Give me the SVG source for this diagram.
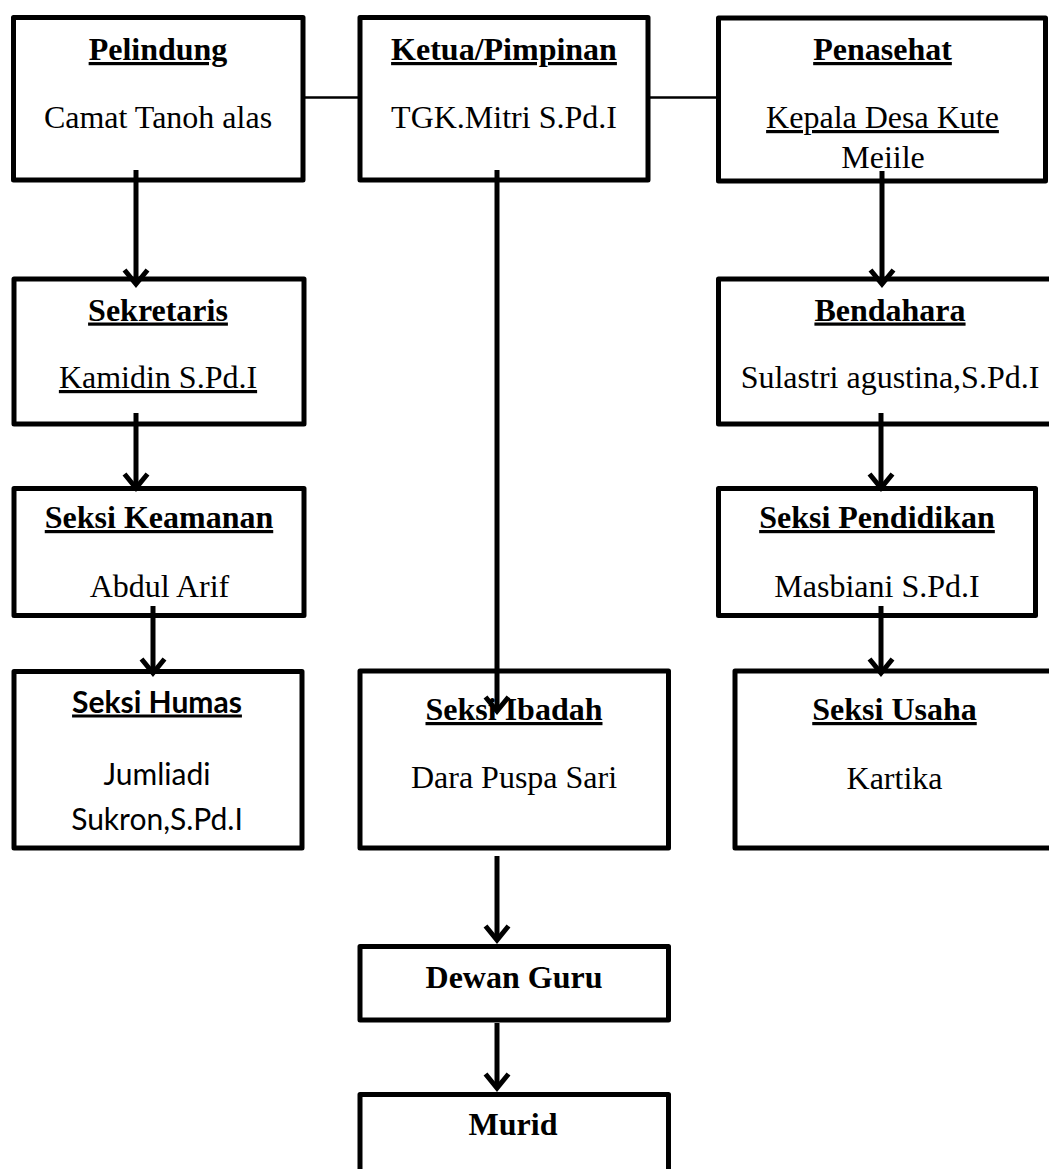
<svg xmlns="http://www.w3.org/2000/svg" width="1049" height="1169" viewBox="0 0 1049 1169">
<style>
.box{fill:#fff;stroke:#000;stroke-width:5;stroke-linejoin:round}
.t{font-family:"Liberation Serif","Times New Roman",serif;font-size:32px;fill:#000;text-anchor:middle}
.b{font-weight:bold}
.u{text-decoration:underline;text-decoration-thickness:2px;text-underline-offset:5px}
.b.u{text-decoration-thickness:3px}
.c{font-family:Lato,"Open Sans",sans-serif;font-size:30px;fill:#000;text-anchor:middle}
.thin{stroke:#000;stroke-width:2.5;fill:none}
.arr{stroke:#000;stroke-width:5;fill:none;marker-end:url(#ah)}
</style>
<defs>
<marker id="ah" markerUnits="userSpaceOnUse" markerWidth="40" markerHeight="40" viewBox="-20 -20 40 40" refX="0" refY="0" orient="auto">
<path d="M-14,-11.5 L0,0 L-14,11.5" fill="none" stroke="#000" stroke-width="5" stroke-linejoin="miter"/>
</marker>
</defs>
<rect width="1049" height="1169" fill="#fff"/>
<g id="pelindung"><rect class="box" x="13.5" y="17.5" width="289.5" height="162.5"/>
<text class="t b u" x="158" y="60">Pelindung</text><text class="t" x="158" y="128">Camat Tanoh alas</text></g>
<g id="ketua"><rect class="box" x="360" y="17.5" width="288" height="162.5"/>
<text class="t b u" x="504" y="60">Ketua/Pimpinan</text><text class="t" x="504" y="128">TGK.Mitri S.Pd.I</text></g>
<g id="penasehat"><rect class="box" x="718.5" y="18" width="327" height="163"/>
<text class="t b u" x="882.5" y="60">Penasehat</text><text class="t u" x="882.5" y="128">Kepala Desa Kute</text><text class="t" x="883" y="168">Meiile</text></g>
<g id="sekretaris"><rect class="box" x="14" y="279" width="290" height="145"/>
<text class="t b u" x="158" y="320.5">Sekretaris</text><text class="t u" x="158" y="388">Kamidin S.Pd.I</text></g>
<g id="bendahara"><rect class="box" x="718.5" y="279" width="345" height="145"/>
<text class="t b u" x="890" y="320.5">Bendahara</text><text class="t" x="890" y="388">Sulastri agustina,S.Pd.I</text></g>
<g id="keamanan"><rect class="box" x="14" y="488.5" width="290" height="127"/>
<text class="t b u" x="159" y="528">Seksi Keamanan</text><text class="t" x="159.5" y="596.5">Abdul Arif</text></g>
<g id="pendidikan"><rect class="box" x="718.5" y="488.5" width="317" height="127"/>
<text class="t b u" x="877" y="528">Seksi Pendidikan</text><text class="t" x="877" y="596.5">Masbiani S.Pd.I</text></g>
<g id="humas"><rect class="box" x="14" y="671.5" width="288" height="176.5"/>
<text class="c b u" x="157" y="712.5">Seksi Humas</text><text class="c" x="157" y="785">Jumliadi</text><text class="c" x="157" y="830">Sukron,S.Pd.I</text></g>
<g id="ibadah"><rect class="box" x="360" y="671" width="308.5" height="177"/>
<text class="t b u" x="514" y="720">Seksi Ibadah</text><text class="t" x="514" y="788">Dara Puspa Sari</text></g>
<g id="usaha"><rect class="box" x="735" y="671" width="330" height="177"/>
<text class="t b u" x="894.5" y="720">Seksi Usaha</text><text class="t" x="894.5" y="789">Kartika</text></g>
<g id="dewan"><rect class="box" x="360" y="946.5" width="308.5" height="73.5"/>
<text class="t b" x="514" y="988">Dewan Guru</text></g>
<g id="murid"><rect class="box" x="360" y="1094.5" width="308.5" height="110"/>
<text class="t b" x="513" y="1135">Murid</text></g>
<g id="connectors">
<line class="thin" x1="303" y1="97.5" x2="360" y2="97.5"/>
<line class="thin" x1="648" y1="97.5" x2="718.5" y2="97.5"/>
<line class="arr" x1="136" y1="170" x2="136" y2="284"/>
<line class="arr" x1="136" y1="413" x2="136" y2="488"/>
<line class="arr" x1="153" y1="606" x2="153" y2="673"/>
<line class="arr" x1="497" y1="170" x2="497" y2="711"/>
<line class="arr" x1="497" y1="856" x2="497" y2="940"/>
<line class="arr" x1="497" y1="1023" x2="497" y2="1088"/>
<line class="arr" x1="882" y1="171" x2="882" y2="284"/>
<line class="arr" x1="881" y1="413" x2="881" y2="488"/>
<line class="arr" x1="881" y1="606" x2="881" y2="673"/>
</g>
</svg>
